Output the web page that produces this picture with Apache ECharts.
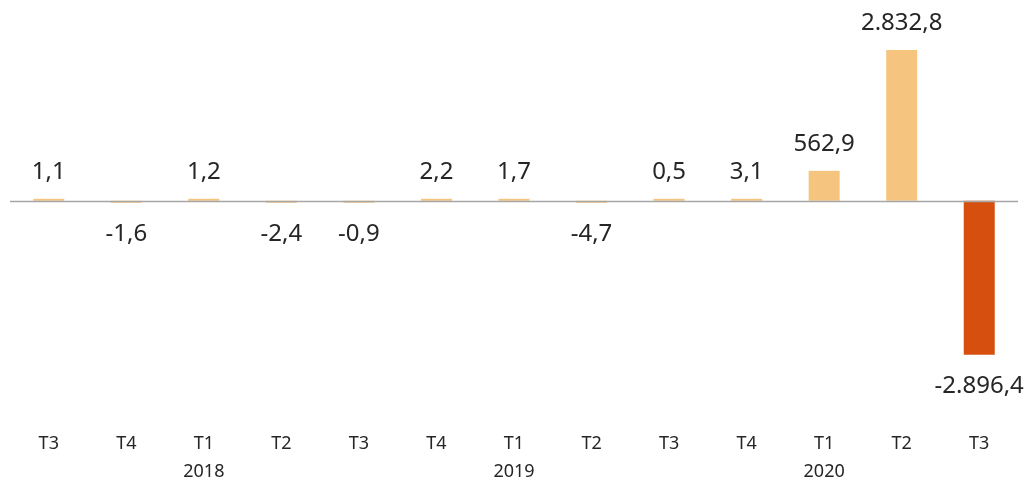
<!DOCTYPE html>
<html><head><meta charset="utf-8">
<script src="https://cdn.jsdelivr.net/npm/echarts@6/dist/echarts.min.js"></script>
<style>html,body{margin:0;padding:0;background:#fff}#c{width:1025px;height:481px}</style>
</head><body><div id="c"></div>
<script>
const quarters = ['T3','T4','T1','T2','T3','T4','T1','T2','T3','T4','T1','T2','T3'];
const years = ['','','2018','','','','2019','','','','2020','',''];
const values = [1.1,-1.6,1.2,-2.4,-0.9,2.2,1.7,-4.7,0.5,3.1,562.9,2832.8,-2896.4];

function fmt(v){
  const neg = v < 0; const a = Math.abs(v);
  const parts = a.toFixed(1).split('.');
  const intp = parts[0].replace(/\B(?=(\d{3})+(?!\d))/g, '.');
  return (neg ? '-' : '') + intp + ',' + parts[1];
}
const light = '#F5C47F', dark = '#D64F0F';
const FONT = 'Noto Sans';
const chart = echarts.init(document.getElementById('c'));
chart.setOption({
  animation: false,
  grid: { left: 10, right: 7, top: 21, height: 379, outerBoundsMode: 'none', containLabel: false },
  xAxis: {
    type: 'category', data: quarters,
    axisLine: { show: false, onZero: false }, axisTick: { show: false },
    axisLabel: {
      margin: 30, color: '#262626', fontFamily: FONT, fontSize: 18, lineHeight: 28,
      formatter: (v, i) => years[i] ? v + '\n' + years[i] : v
    }
  },
  yAxis: { type: 'value', min: -3745, max: 3380, show: false, splitLine: { show: false } },
  series: [{
    type: 'bar', barWidth: 31, barMinHeight: 2,
    data: values.map((v, i) => ({
      value: v,
      itemStyle: { color: i === values.length - 1 ? dark : light },
      label: { position: v < 0 ? 'bottom' : 'top', distance: v < 0 ? 19 : 15 }
    })),
    label: {
      show: true, color: '#262626', fontFamily: FONT, fontSize: 24,
      formatter: p => fmt(p.value)
    },
    markLine: {
      silent: true, symbol: 'none', label: { show: false },
      lineStyle: { color: '#A6A6A6', width: 1.3, type: 'solid' },
      data: [{ yAxis: 0 }], z: 10
    }
  }]
});
</script></body></html>
